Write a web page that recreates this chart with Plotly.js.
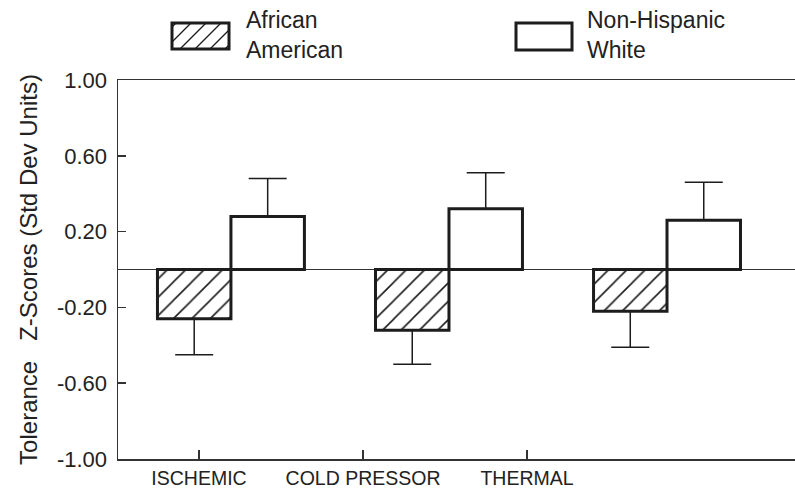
<!DOCTYPE html>
<html>
<head>
<meta charset="utf-8">
<script src="https://cdn.plot.ly/plotly-3.0.1.min.js"></script>
<style>html,body{margin:0;padding:0;background:#fff;}#chart{width:795px;height:494px;}</style>
</head>
<body>
<div id="chart"></div>
<script>
// ---- data ----
const categories = ["ISCHEMIC", "COLD PRESSOR", "THERMAL"];
const groupNames = ["African American", "Non-Hispanic White"];
const africanAmerican = [-0.26, -0.32, -0.22];
const africanAmericanErr = [0.19, 0.18, 0.19];
const nonHispanicWhite = [0.28, 0.32, 0.26];
const nonHispanicWhiteErr = [0.20, 0.19, 0.20];
const yTickVals = [1.0, 0.6, 0.2, -0.2, -0.6, -1.0];
const yTickText = ["1.00", "0.60", "0.20", "-0.20", "-0.60", "-1.00"];

// ---- layout geometry (pixels) ----
const W = 795, H = 494;
const M = {l: 118, r: 0, t: 80, b: 35};
const plotW = W - M.l - M.r, plotH = H - M.t - M.b;
const px = x => (x - M.l) / plotW;
const py = y => (H - M.b - y) / plotH;

const idx = categories.map((_, i) => i);
const ink = '#1c1c1c';
const FONT = 'Liberation Sans, Arial, sans-serif';

const traces = [
  {
    type: 'bar', name: groupNames[0], x: idx, y: africanAmerican,
    marker: {color: '#ffffff', line: {color: ink, width: 3},
             pattern: {shape: '/', fgcolor: '#1a1a1a', bgcolor: '#ffffff', size: 13, solidity: 0.12}},
    error_y: {type: 'data', symmetric: false, array: africanAmerican.map(() => 0),
              arrayminus: africanAmericanErr, color: ink, thickness: 1.5, width: 19},
    showlegend: false, hoverinfo: 'skip'
  },
  {
    type: 'bar', name: groupNames[1], x: idx, y: nonHispanicWhite,
    marker: {color: '#ffffff', line: {color: ink, width: 3}},
    error_y: {type: 'data', symmetric: false, array: nonHispanicWhiteErr,
              arrayminus: nonHispanicWhite.map(() => 0), color: ink, thickness: 1.5, width: 19},
    showlegend: false, hoverinfo: 'skip'
  },
  // carrier for the category-label axis (draws nothing)
  {
    type: 'scatter', mode: 'markers', x: idx, y: idx.map(() => null),
    xaxis: 'x2', yaxis: 'y', showlegend: false, hoverinfo: 'skip'
  }
];

// ---- legend (drawn manually: large boxes) ----
const shapes = [];
const annotations = [];
function legendBox(x0, y0, x1, y1, hatch) {
  if (hatch) {
    const step = 15;
    for (let c = x0 - (y1 - y0) + 4; c < x1; c += step) {
      let ax = c, ay = y1, bx = c + (y1 - y0), by = y0;
      if (ax < x0) { ay -= (x0 - ax); ax = x0; }
      if (bx > x1) { by += (bx - x1); bx = x1; }
      if (ax >= bx) continue;
      shapes.push({type: 'line', xref: 'paper', yref: 'paper',
        x0: px(ax), y0: py(ay), x1: px(bx), y1: py(by),
        line: {color: '#1a1a1a', width: 1.3}});
    }
  }
  shapes.push({type: 'rect', xref: 'paper', yref: 'paper',
    x0: px(x0), y0: py(y0), x1: px(x1), y1: py(y1),
    line: {color: ink, width: 3}, fillcolor: 'rgba(0,0,0,0)'});
}
function legendText(lines, x, yTop) {
  lines.forEach((t, i) => annotations.push({
    xref: 'paper', yref: 'paper', x: px(x), y: py(yTop + i * 29.5),
    xanchor: 'left', yanchor: 'middle', text: t, showarrow: false,
    font: {family: FONT, size: 23, color: '#222'}
  }));
}
legendBox(172, 23, 229, 49, true);
legendText(groupNames[0].split(' '), 244, 20);
legendBox(516, 23, 572, 50, false);
legendText(['Non-Hispanic', 'White'], 585, 20);

const layout = {
  width: W, height: H,
  margin: M,
  paper_bgcolor: '#ffffff', plot_bgcolor: '#ffffff',
  barmode: 'group', bargap: 0.326, bargroupgap: 0,
  showlegend: false,
  font: {family: FONT, color: '#222'},
  xaxis: {
    range: [-0.518, 2.587], showgrid: false, zeroline: false,
    showticklabels: false, ticks: '', showline: true, mirror: true,
    linecolor: '#333', linewidth: 1.5, fixedrange: true
  },
  xaxis2: {
    overlaying: 'x', anchor: 'y', side: 'bottom',
    range: [-0.494, 3.634], tickmode: 'array', tickvals: idx, ticktext: categories,
    ticks: 'inside', ticklen: 9, tickwidth: 1.5, tickcolor: '#333',
    showgrid: false, zeroline: false, showline: false,
    tickfont: {family: FONT, size: 19.5, color: '#222'}, ticklabelstandoff: 5,
    fixedrange: true
  },
  yaxis: {
    range: [-1, 1], tickmode: 'array', tickvals: yTickVals, ticktext: yTickText,
    ticks: 'inside', ticklen: 8, tickwidth: 1.5, tickcolor: '#333',
    showgrid: false, zeroline: true, zerolinecolor: '#333', zerolinewidth: 1.5,
    showline: true, linecolor: '#333', linewidth: 1.5,
    tickfont: {family: FONT, size: 22, color: '#222'}, ticklabelstandoff: 5,
    title: {text: 'Tolerance\u00a0\u00a0\u00a0Z-Scores (Std Dev Units)',
            font: {family: FONT, size: 24, color: '#222'}, standoff: 12},
    fixedrange: true
  },
  shapes: shapes,
  annotations: annotations
};

Plotly.newPlot('chart', traces, layout, {staticPlot: true, displayModeBar: false});
</script>
</body>
</html>
